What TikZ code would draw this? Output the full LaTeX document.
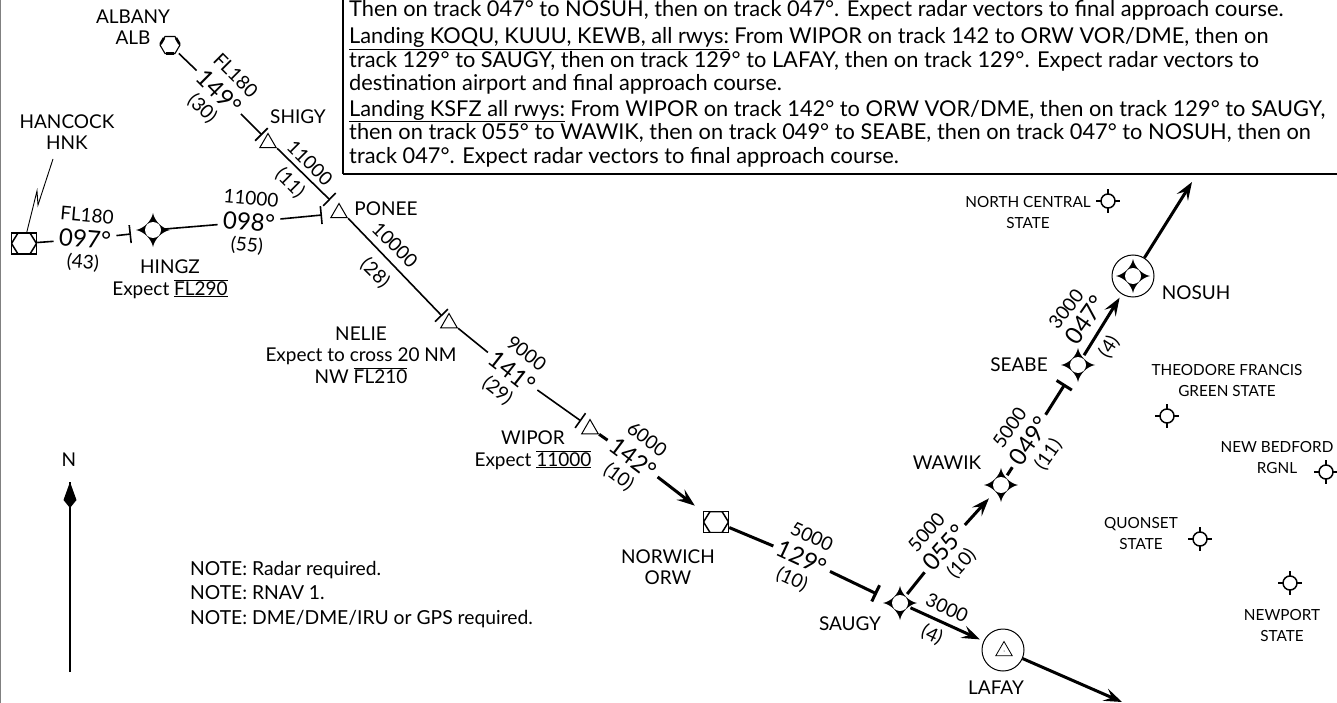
\documentclass[tikz,border=0pt]{standalone}
\usepackage{fontspec}
\setmainfont{Lato}[Numbers={Lining,Monospaced}]
\usetikzlibrary{arrows.meta,shapes.geometric}

\newcommand{\starmark}{\fill (17,0) .. controls (9,-1.5) and (1.5,-9) .. (0,-17) .. controls (-1.5,-9) and (-9,-1.5) .. (-17,0) .. controls (-9,1.5) and (-1.5,9) .. (0,17) .. controls (1.5,9) and (9,1.5) .. (17,0) -- cycle; \fill[white] (0,0) circle (8);}
\newcommand{\hexmark}[2]{\draw[line width=1.5pt] (-#1,0) -- (-#2,-10.5) -- (#2,-10.5) -- (#1,0) -- (#2,10.5) -- (-#2,10.5) -- cycle;}
\newcommand{\aptmark}{\draw[line width=1.5pt] (0,0) circle (7); \draw[line width=1.6pt] (7,0) -- (12,0) (-7,0) -- (-12,0) (0,7) -- (0,12) (0,-7) -- (0,-12);}
\newcommand{\albmark}{\draw[line width=1.1pt] (-10,0) -- (-5,-8.5) -- (5,-8.5) -- (10,0) -- (5,8.5) -- (-5,8.5) -- cycle; \draw[line width=2.6pt] (-4,8.5) -- (4,8.5) (-9.5,-1) -- (-6,-7) (9.5,-1) -- (6,-7);}
\newcommand{\altbar}[1]{$\overline{\underline{\hbox{#1}}}$}
\newcommand{\legdata}[6]{%
  \node[brg,rotate=#3] (#1) at (#2) {#5};
  \node[legtxt,rotate=#3] (#1alt) at (#1.north) {#4};
  \node[legtxt,rotate=#3] (#1dist) at (#1.south) {#6};}

\tikzset{
  txt/.style={align=center,inner sep=0pt,font=\fontsize{19}{21.5}\selectfont},
  aptname/.style={align=center,inner sep=0pt,font=\fontsize{15.3}{21}\selectfont},
  legtxt/.style={inner sep=0pt,font=\fontsize{19}{20}\selectfont},
  brg/.style={inner xsep=5pt,inner ysep=0pt,minimum height=47pt,font=\fontsize{24}{26}\selectfont},
  mark/.style={path picture={\begin{scope}[shift={(path picture bounding box.center)}]#1\end{scope}}},
  fly/.style={circle,inner sep=0pt,outer sep=-6pt,minimum size=35pt,mark=\starmark},
  apt/.style={circle,inner sep=0pt,minimum size=25pt,mark=\aptmark},
  hexbox/.style={rectangle,draw,line width=1.5pt,inner sep=0pt,minimum width=25pt,minimum height=21pt,mark={\hexmark{12.5}{6}}},
  tri/.style={regular polygon,regular polygon sides=3,draw,line width=1pt,inner sep=0pt,minimum size=19pt},
  ring/.style={circle,draw,line width=1pt,inner sep=0pt,minimum size=42pt},
  thinleg/.style={line width=1.6pt},
  thickleg/.style={line width=3pt},
  tick/.style={-{Bar[width=18pt]}},
  head/.style={-{Stealth[length=18pt,width=13pt,inset=7pt]}}
}

\begin{document}
\begin{tikzpicture}[x=1pt,y=-1pt]
  \useasboundingbox (0,0) rectangle (1337,703);
  \clip (0,0) rectangle (1337,703);
  \draw[gray,line width=1.2pt] (0.5,0) -- (0.5,703);

  % procedure text
  \draw[line width=1.5pt] (343,-5) -- (343,174);
  \draw[line width=2.8pt] (343,174) -- (1342,174);
  \node[anchor=north west,align=left,inner sep=0pt,font=\fontsize{21.8}{23.5}\selectfont] (proc) at (349,0) {%
    Then on track 047° to NOSUH, then on track 047°. Expect radar vectors to final approach course.\\[4pt]
    \underline{Landing KOQU, KUUU, KEWB, all rwys:} From WIPOR on track 142 to ORW VOR/DME, then on\\
    track 129° to SAUGY, then on track 129° to LAFAY, then on track 129°. Expect radar vectors to\\
    destination airport and final approach course.\\[2pt]
    \underline{Landing KSFZ all rwys:} From WIPOR on track 142° to ORW VOR/DME, then on track 129° to SAUGY,\\
    then on track 055° to WAWIK, then on track 049° to SEABE, then on track 047° to NOSUH, then on\\
    track 047°. Expect radar vectors to final approach course.};

  % navaids and fixes
  \node[circle,inner sep=0pt,minimum size=24pt,mark=\albmark] (alb) at (170,45) {};
  \node[hexbox] (hnk) at (24,243.5) {};
  \node[hexbox] (orw) at (716,522) {};
  \node[fly] (hingz) at (153,230) {};
  \node[tri] (shigy) at (268,143) {};
  \node[tri] (ponee) at (339,213) {};
  \node[tri] (nelie) at (449,323) {};
  \node[tri] (wipor) at (590,429) {};
  \node[fly] (saugy) at (900,603) {};
  \node[fly] (wawik) at (1001,485) {};
  \node[fly] (seabe) at (1078,365) {};
  \node[ring,mark=\starmark] (nosuh) at (1133,276) {};
  \node[ring] (lafay) at (1003,650) {};
  \node[tri,line width=0.8pt] (lafaytri) at (1004,651) {};
  \fill (lafaytri) circle (0.5);

  % leg data
  \legdata{albleg}{219,92}{-45}{FL180}{149°}{(30)}
  \legdata{hnkleg}{85,239}{-5}{FL180}{097°}{(43)}
  \legdata{hingzleg}{249,222}{-5}{11000}{098°}{(55)}
  \legdata{nelieleg}{512,372}{-38}{9000}{141°}{(29)}
  \legdata{wiporleg}{633,458}{-37}{6000}{142°}{(10)}
  \legdata{orwleg}{802,558}{-25}{5000}{129°}{(10)}
  \legdata{saugyleg}{944,548}{48}{5000}{055°}{(10)}
  \legdata{wawikleg}{1029,441}{55}{5000}{049°}{(11)}
  \node[legtxt,rotate=-45] (shigyalt) at (310,163) {11000};
  \node[legtxt,rotate=-45] (shigydist) at (290,183) {(11)};
  \node[legtxt,rotate=-45] (poneealt) at (395,245) {10000};
  \node[legtxt,rotate=-45] (poneedist) at (375,273) {(28)};
  \node[legtxt,rotate=52] (seabealt) at (1066,309) {3000};
  \node[rotate=55,inner sep=0pt,font=\fontsize{24}{26}\selectfont] (seabebrg) at (1085,320) {047°};
  \node[legtxt,rotate=57] (seabedist) at (1109,347) {(4)};
  \node[legtxt,rotate=-25] (lafayalt) at (947,608) {3000};
  \node[legtxt,rotate=-25] (lafaydist) at (932,635) {(4)};

  % bar ends of the legs
  \coordinate (shigybar) at (262,135);
  \coordinate (poneebar) at (330,200);
  \coordinate (poneeside) at (322,215);
  \coordinate (hingzbar) at (131,234);
  \coordinate (neliebar) at (442,316);
  \coordinate (wiporbar) at (581,421);
  \coordinate (saugybar) at (877,594);
  \coordinate (seabebar) at (1065,384);
  \coordinate (nosuhout) at (1192,182);
  \coordinate (lafayout) at (1122,702);

  \draw[thinleg] (alb) -- (albleg);
  \draw[thinleg,tick] (albleg) -- (shigybar);
  \draw[thinleg,tick] (shigy.corner 3) -- (poneebar);
  \draw[thinleg] (hnk) -- (hnkleg);
  \draw[thinleg,tick] (hnkleg) -- (hingzbar);
  \draw[thinleg] (hingz) -- (hingzleg);
  \draw[thinleg,tick] (hingzleg) -- (poneeside);
  \draw[thinleg,tick] (ponee.corner 3) -- (neliebar);
  \draw[thinleg] (nelie.corner 3) -- (nelieleg);
  \draw[thinleg,tick] (nelieleg) -- (wiporbar);
  \draw[thickleg] (wipor.corner 3) -- (wiporleg);
  \draw[thickleg,head,shorten >=10pt] (wiporleg) -- (orw);
  \draw[thickleg] (orw) -- (orwleg);
  \draw[thickleg,tick] (orwleg) -- (saugybar);
  \draw[thickleg] (saugy) -- (saugyleg);
  \draw[thickleg,head,shorten >=6.5pt] (saugyleg) -- (wawik);
  \draw[thickleg] (wawik) -- (wawikleg);
  \draw[thickleg,tick] (wawikleg) -- (seabebar);
  \draw[thickleg,head,shorten >=4pt] (seabe) -- (nosuh);
  \draw[thickleg,head] (nosuh) -- (nosuhout);
  \draw[thickleg,head,shorten >=4pt] (saugy) -- (lafay);
  \draw[thickleg,head] (lafay) -- (lafayout);

  \coordinate (hnkbolt) at (53,159);
  \coordinate (hnkboltb) at (38,205);
  \coordinate (hnkboltc) at (37,191);
  \draw[line width=0.9pt] (hnkbolt) -- (hnkboltb) -- (hnkboltc) -- (hnk);

  % names
  \node[txt] (albname) at (133,27) {ALBANY\\ALB};
  \node[txt] (hnkname) at (67,132) {HANCOCK\\HNK};
  \node[txt] (shigyname) at (298,117) {SHIGY};
  \node[txt] (poneename) at (386,209) {PONEE};
  \node[txt] (hingzname) at (170,279) {HINGZ\\Expect \altbar{FL290}};
  \node[txt] (neliename) at (361,355) {NELIE\\Expect to cross 20 NM\\NW $\overline{\hbox{FL210}}$};
  \node[txt] (wiporname) at (533,450) {WIPOR\\Expect \altbar{11000}};
  \node[txt] (orwname) at (668,567) {NORWICH\\ORW};
  \node[txt] (saugyname) at (850,624) {SAUGY};
  \node[txt] (wawikname) at (947,463) {WAWIK};
  \node[txt] (seabename) at (1019,365) {SEABE};
  \node[txt] (nosuhname) at (1196,293) {NOSUH};
  \node[txt] (lafayname) at (996,688) {LAFAY};

  % airports
  \node[apt] (ncs) at (1108,201) {};
  \node[apt] (tfg) at (1167,416) {};
  \node[apt] (nbr) at (1326,472) {};
  \node[apt] (quo) at (1200,539) {};
  \node[apt] (npt) at (1290,583) {};
  \node[aptname] (ncsname) at (1028,213) {NORTH CENTRAL\\STATE};
  \node[aptname] (tfgname) at (1227,381) {THEODORE FRANCIS\\GREEN STATE};
  \node[aptname] (nbrname) at (1277,458) {NEW BEDFORD\\RGNL};
  \node[aptname] (quoname) at (1141,534) {QUONSET\\STATE};
  \node[aptname] (nptname) at (1282,626) {NEWPORT\\STATE};

  % north arrow
  \node[txt] (north) at (69,460) {N};
  \coordinate (northfoot) at (70,672);
  \coordinate (northtip) at (70,482);
  \draw[line width=1.5pt] (northfoot) -- (northtip);
  \fill (northtip) -- (76.5,500) -- (70,508) -- (63.5,500) -- cycle;

  % notes
  \node[anchor=north west,align=left,inner sep=0pt,font=\fontsize{19.3}{24.5}\selectfont] (notes) at (190,561) {%
    NOTE: Radar required.\\NOTE: RNAV 1.\\NOTE: DME/DME/IRU or GPS required.};
\end{tikzpicture}
\end{document}
